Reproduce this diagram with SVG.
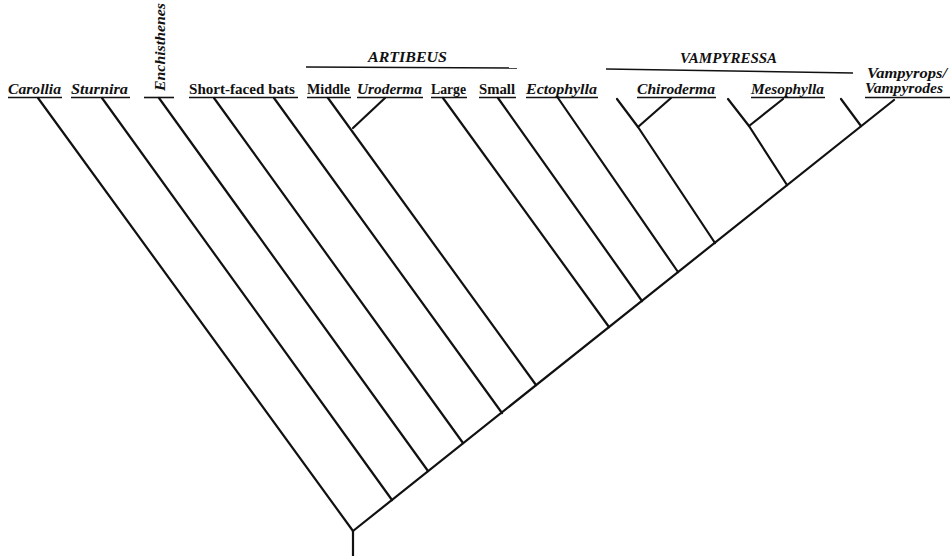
<svg xmlns="http://www.w3.org/2000/svg" width="951" height="556" viewBox="0 0 951 556">
<style>
.lbl{font-family:"Liberation Serif","Times New Roman",serif;font-size:14px;font-weight:bold;fill:#111}
.it{font-style:italic}
.grp{font-family:"Liberation Serif","Times New Roman",serif;font-size:14px;font-weight:bold;font-style:italic;fill:#111}
.ul{stroke:#111;stroke-width:1.6;fill:none}
.br{stroke:#111;stroke-width:2.2;fill:none;stroke-linecap:round;stroke-linejoin:round}
</style>
<rect width="951" height="556" fill="#fff"/>
<g id="connectors">
<line class="br" x1="353" y1="556" x2="353" y2="531"/>
<line class="br" x1="353" y1="531" x2="894" y2="100"/>
<line class="br" x1="38" y1="98" x2="353" y2="531"/>
<line class="br" x1="102" y1="98" x2="392" y2="500"/>
<line class="br" x1="159" y1="98" x2="428" y2="471"/>
<line class="br" x1="214" y1="98" x2="463" y2="443"/>
<line class="br" x1="274" y1="98" x2="502" y2="413"/>
<line class="br" x1="328" y1="98" x2="536" y2="385"/>
<line class="br" x1="385" y1="98" x2="353" y2="128"/>
<line class="br" x1="443" y1="98" x2="609" y2="327"/>
<line class="br" x1="498" y1="98" x2="642" y2="301"/>
<line class="br" x1="558" y1="98" x2="678" y2="272"/>
<polyline class="br" points="617,99 638,127 715,243"/>
<line class="br" x1="671" y1="98" x2="638" y2="127"/>
<polyline class="br" points="728,99 749,126 787,185"/>
<line class="br" x1="783" y1="99" x2="749" y2="126"/>
<line class="br" x1="841" y1="99" x2="861" y2="126"/>
</g>
<g id="artibeus">
<text class="grp" x="368" y="62" textLength="79" lengthAdjust="spacingAndGlyphs">ARTIBEUS</text>
<line class="ul" x1="306" y1="67" x2="517" y2="68"/>
</g>
<g id="vampyressa">
<text class="grp" x="680" y="63" textLength="97" lengthAdjust="spacingAndGlyphs">VAMPYRESSA</text>
<line class="ul" x1="606" y1="69" x2="853" y2="73"/>
</g>
<g id="carollia">
<text class="lbl it" x="8" y="94" textLength="53" lengthAdjust="spacingAndGlyphs">Carollia</text>
<line class="ul" x1="8" y1="97.5" x2="62" y2="97.5"/>
</g>
<g id="sturnira">
<text class="lbl it" x="71" y="94" textLength="57" lengthAdjust="spacingAndGlyphs">Sturnira</text>
<line class="ul" x1="71" y1="97.5" x2="130" y2="97.5"/>
</g>
<g id="enchisthenes">
<text class="lbl it" transform="translate(165,91) rotate(-90)" x="0" y="0" textLength="88" lengthAdjust="spacingAndGlyphs">Enchisthenes</text>
<line class="ul" x1="144" y1="97.5" x2="174" y2="97.5"/>
</g>
<g id="short-faced-bats">
<text class="lbl" x="189" y="94" textLength="106" lengthAdjust="spacingAndGlyphs">Short-faced bats</text>
<line class="ul" x1="189" y1="97.5" x2="298" y2="97.5"/>
</g>
<g id="middle">
<text class="lbl" x="307" y="94" textLength="43" lengthAdjust="spacingAndGlyphs">Middle</text>
<line class="ul" x1="307" y1="97.5" x2="351" y2="97.5"/>
</g>
<g id="uroderma">
<text class="lbl it" x="357" y="94" textLength="65" lengthAdjust="spacingAndGlyphs">Uroderma</text>
<line class="ul" x1="357" y1="97.5" x2="423" y2="97.5"/>
</g>
<g id="large">
<text class="lbl" x="431" y="94" textLength="35" lengthAdjust="spacingAndGlyphs">Large</text>
<line class="ul" x1="431" y1="97.5" x2="467" y2="97.5"/>
</g>
<g id="small">
<text class="lbl" x="479" y="94" textLength="36" lengthAdjust="spacingAndGlyphs">Small</text>
<line class="ul" x1="479" y1="97.5" x2="516" y2="97.5"/>
</g>
<g id="ectophylla">
<text class="lbl it" x="526" y="94" textLength="71" lengthAdjust="spacingAndGlyphs">Ectophylla</text>
<line class="ul" x1="526" y1="97.5" x2="598" y2="97.5"/>
</g>
<g id="chiroderma">
<text class="lbl it" x="637" y="94" textLength="78" lengthAdjust="spacingAndGlyphs">Chiroderma</text>
<line class="ul" x1="637" y1="97.5" x2="716" y2="97.5"/>
</g>
<g id="mesophylla">
<text class="lbl it" x="751" y="94" textLength="73" lengthAdjust="spacingAndGlyphs">Mesophylla</text>
<line class="ul" x1="751" y1="97.5" x2="825" y2="97.5"/>
</g>
<g id="vampyrops">
<text class="lbl it" x="867" y="78" textLength="80" lengthAdjust="spacingAndGlyphs">Vampyrops/</text>
<text class="lbl it" x="865" y="93" textLength="78" lengthAdjust="spacingAndGlyphs">Vampyrodes</text>
<line class="ul" x1="865" y1="97.5" x2="950" y2="97.5"/>
</g>
</svg>
